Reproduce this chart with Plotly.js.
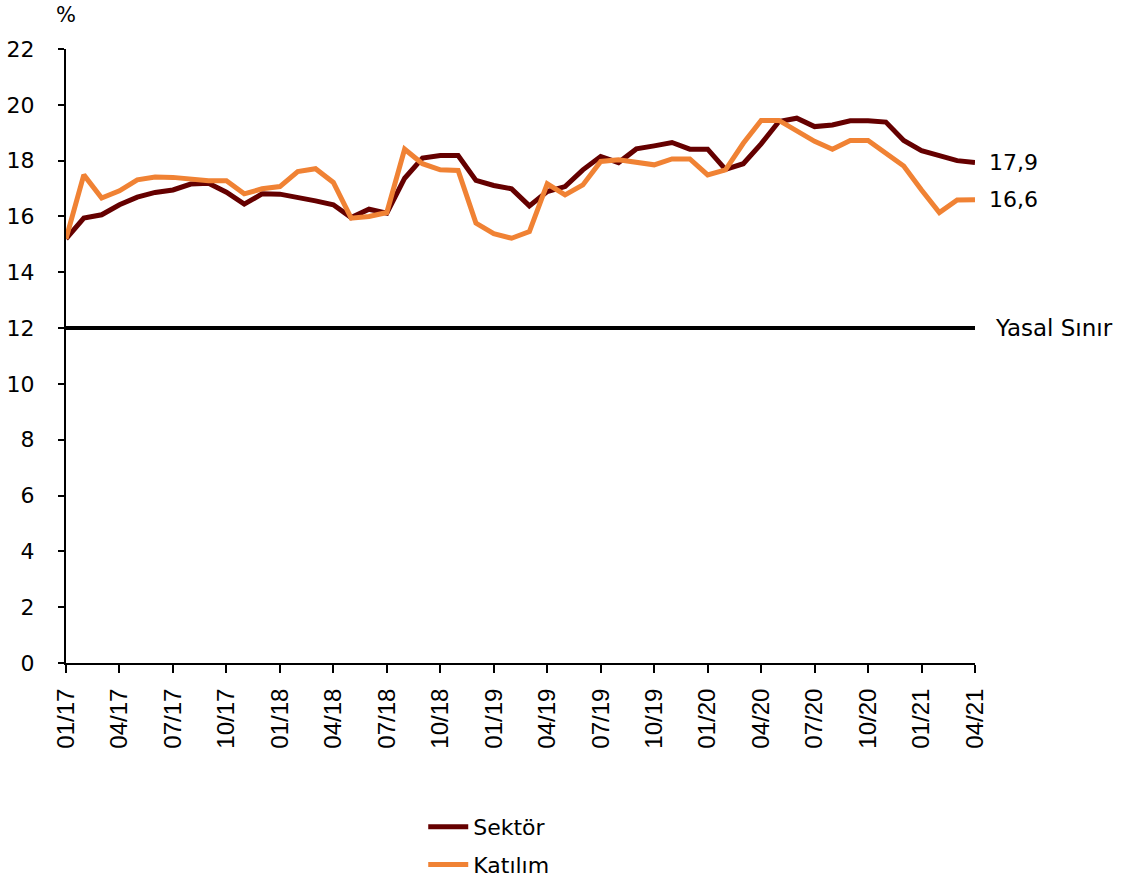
<!DOCTYPE html>
<html>
<head>
<meta charset="utf-8">
<script src="https://cdn.plot.ly/plotly-3.0.1.min.js"></script>
<style>html,body{margin:0;padding:0;background:#fff;}#chart{width:1123px;height:883px;}</style>
</head>
<body>
<div id="chart"></div>
<script>
const months = [
  "01/17","02/17","03/17","04/17","05/17","06/17","07/17","08/17","09/17","10/17","11/17","12/17",
  "01/18","02/18","03/18","04/18","05/18","06/18","07/18","08/18","09/18","10/18","11/18","12/18",
  "01/19","02/19","03/19","04/19","05/19","06/19","07/19","08/19","09/19","10/19","11/19","12/19",
  "01/20","02/20","03/20","04/20","05/20","06/20","07/20","08/20","09/20","10/20","11/20","12/20",
  "01/21","02/21","03/21","04/21"
];
const sektor = [
  15.2,15.94,16.06,16.42,16.69,16.86,16.95,17.16,17.19,16.87,16.44,16.81,
  16.80,16.69,16.56,16.42,15.96,16.26,16.12,17.37,18.09,18.18,18.18,17.29,
  17.11,16.99,16.38,16.89,17.07,17.67,18.15,17.93,18.42,18.53,18.65,18.41,
  18.41,17.69,17.89,18.60,19.40,19.52,19.22,19.28,19.43,19.43,19.38,18.72,
  18.36,18.18,18.00,17.93
];
const katilim = [
  15.2,17.49,16.66,16.92,17.31,17.41,17.40,17.34,17.28,17.28,16.81,16.99,
  17.07,17.61,17.71,17.22,15.94,16.00,16.14,18.41,17.89,17.67,17.65,15.76,
  15.38,15.22,15.46,17.17,16.77,17.13,17.97,18.03,17.93,17.85,18.06,18.06,
  17.49,17.67,18.62,19.44,19.44,19.08,18.69,18.41,18.72,18.72,18.27,17.81,
  16.95,16.14,16.59,16.60
];
const tickLabels = ["01/17","04/17","07/17","10/17","01/18","04/18","07/18","10/18","01/19","04/19","07/19","10/19","01/20","04/20","07/20","10/20","01/21","04/21"];
const yTicks = [0,2,4,6,8,10,12,14,16,18,20,22];
const yasalSinir = 12;
const seriesNames = ["Sektör","Katılım"];
const yasalLabel = "Yasal Sınır";

const FONT = "DejaVu Sans, Verdana, sans-serif";
const fmt = v => v.toFixed(1).replace(".", ",");
const last = months.length - 1;

const traces = [
  {x: months, y: sektor, name: seriesNames[0], legendgroup: "a", type: "scatter", mode: "lines",
   line: {color: "#650000", width: 5}},
  {x: months, y: katilim, name: seriesNames[1], legendgroup: "b", type: "scatter", mode: "lines",
   line: {color: "#F08234", width: 5}}
];

const layout = {
  width: 1123, height: 883,
  margin: {l: 66, r: 148, t: 49, b: 220},
  paper_bgcolor: "#fff", plot_bgcolor: "#fff",
  font: {family: FONT, size: 22, color: "#000"},
  showlegend: true,
  legend: {xref: "paper", yref: "container", x: 0.393, xanchor: "left", y: 0.0872, yanchor: "top",
           font: {family: FONT, size: 22, color: "#000"}, traceorder: "grouped",
           tracegroupgap: 6, itemwidth: 40, bgcolor: "rgba(0,0,0,0)"},
  xaxis: {type: "category", range: [0, last], showgrid: false, zeroline: false,
          showline: true, linecolor: "#000", linewidth: 2,
          ticks: "outside", ticklen: 8, tickwidth: 2, tickcolor: "#000",
          tickmode: "array", tickvals: tickLabels, ticktext: tickLabels, ticklabelstandoff: 6,
          tickangle: -90, tickfont: {family: "Liberation Sans, Arial, sans-serif", size: 24, color: "#000"},
          fixedrange: true},
  yaxis: {range: [0, 22], showgrid: false, zeroline: false,
          showline: true, linecolor: "#000", linewidth: 2,
          ticks: "outside", ticklen: 6, tickwidth: 2, tickcolor: "#000", ticklabelstandoff: 19,
          tickmode: "array", tickvals: yTicks, ticktext: yTicks.map(String),
          tickfont: {family: FONT, size: 22, color: "#000"}, fixedrange: true},
  shapes: [
    {type: "line", xref: "paper", yref: "y", x0: 0, x1: 1, y0: yasalSinir, y1: yasalSinir,
     line: {color: "#000", width: 4}}
  ],
  annotations: [
    {xref: "paper", yref: "paper", x: 0, y: 1, xanchor: "center", yanchor: "bottom",
     yshift: 20, text: "%", showarrow: false, font: {family: FONT, size: 21, color: "#000"}},
    {xref: "x", yref: "y", x: months[last], y: sektor[last], xanchor: "left", yanchor: "middle",
     xshift: 12, yshift: 0, text: fmt(sektor[last]), showarrow: false,
     font: {family: FONT, size: 22, color: "#000"}},
    {xref: "x", yref: "y", x: months[last], y: katilim[last], xanchor: "left", yanchor: "middle",
     xshift: 12, text: fmt(katilim[last]), showarrow: false,
     font: {family: FONT, size: 22, color: "#000"}},
    {xref: "paper", yref: "y", x: 1, y: yasalSinir, xanchor: "left", yanchor: "middle",
     xshift: 18, text: yasalLabel, showarrow: false,
     font: {family: FONT, size: 23, color: "#000"}}
  ]
};

Plotly.newPlot("chart", traces, layout, {staticPlot: true, displayModeBar: false});
</script>
</body>
</html>
